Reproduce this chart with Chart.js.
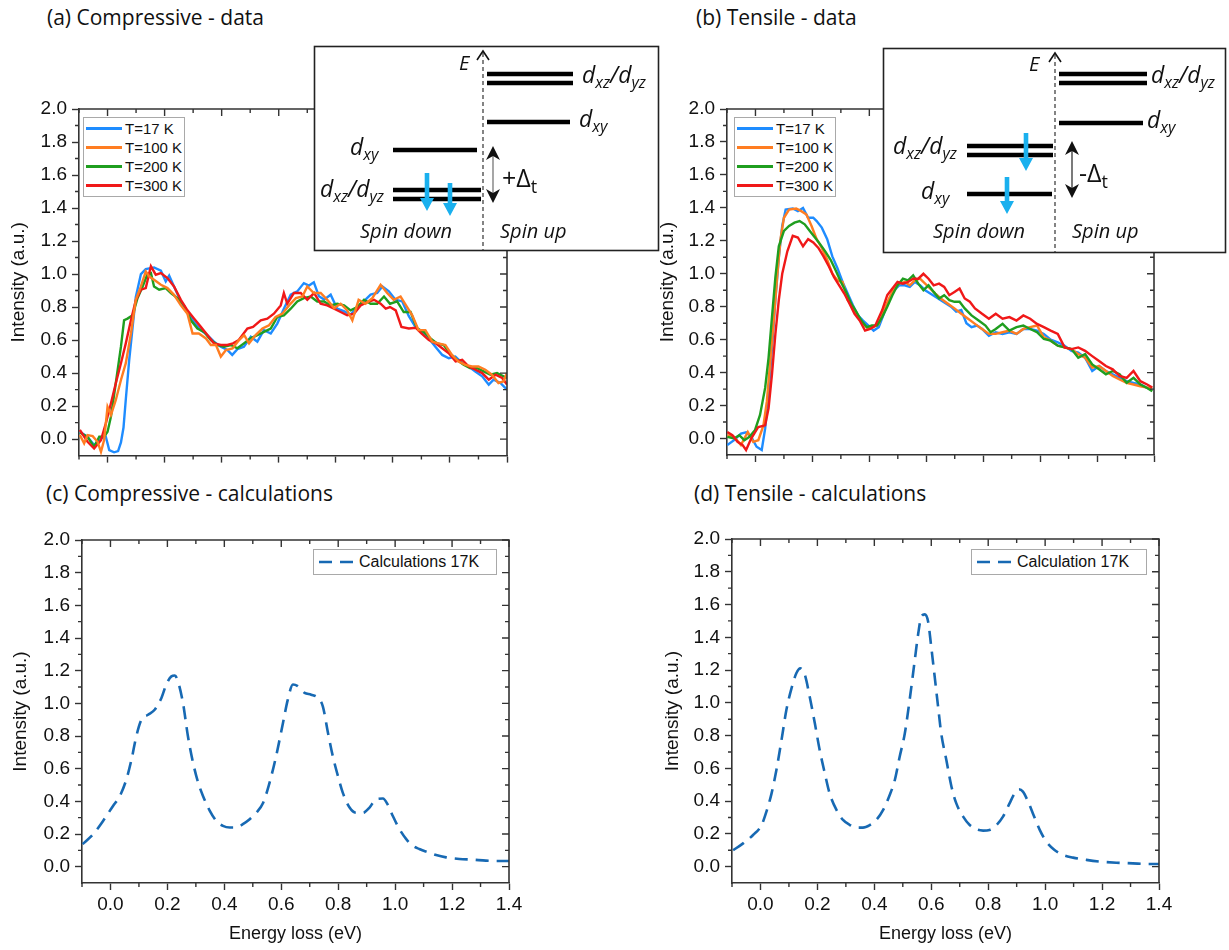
<!DOCTYPE html>
<html>
<head>
<meta charset="utf-8">
<script src="https://cdn.jsdelivr.net/npm/chart.js@4.4.1/dist/chart.umd.min.js"></script>
<style>
  html, body { margin: 0; padding: 0; background: #fff; }
  #fig { position: relative; width: 1229px; height: 950px; overflow: hidden; font-family: "Liberation Sans", Arial, sans-serif; }
  #fig canvas { position: absolute; }
  .ptitle { position: absolute; font-family: "Open Sans", sans-serif; font-size: 21px; line-height: 24px; color: #111; white-space: nowrap; }
  .legend { position: absolute; border: 1px solid #a9a9a9; background: #fff; color: #111; box-sizing: border-box; }
  .legend .row { position: absolute; left: 0; height: 19px; white-space: nowrap; }
  .legend .sw { position: absolute; left: 2px; top: 8px; width: 36px; height: 2.5px; }
  .legend .tx { position: absolute; left: 41px; top: 0; font-size: 15px; line-height: 19px; }
  #insets { position: absolute; left: 0; top: 0; pointer-events: none; }
  #insets text { font-family: "Open Sans", sans-serif; fill: #111; }
  #insets .it { font-style: italic; }
</style>
</head>
<body>
<div id="fig">
  <div class="ptitle" style="left:47px;top:5px">(a) Compressive - data</div>
  <div class="ptitle" style="left:696px;top:5px">(b) Tensile - data</div>
  <div class="ptitle" style="left:46px;top:481px">(c) Compressive - calculations</div>
  <div class="ptitle" style="left:694px;top:481px">(d) Tensile - calculations</div>

  <canvas id="chartA"></canvas>
  <canvas id="chartB"></canvas>
  <canvas id="chartC"></canvas>
  <canvas id="chartD"></canvas>

  <div class="legend" id="legA" style="left:83px;top:117px;width:102px;height:80px"></div>
  <div class="legend" id="legB" style="left:734px;top:117px;width:102px;height:80px"></div>

  <div class="legend" style="left:313px;top:549px;width:184px;height:26px">
    <svg width="42" height="24" style="position:absolute;left:2px;top:0"><line x1="3" y1="12" x2="40" y2="12" stroke="#1769b3" stroke-width="2.6" stroke-dasharray="13,8"/></svg>
    <span style="position:absolute;left:45px;top:2px;font-size:16px;line-height:20px">Calculations 17K</span>
  </div>
  <div class="legend" style="left:971px;top:549px;width:176px;height:26px">
    <svg width="42" height="24" style="position:absolute;left:2px;top:0"><line x1="3" y1="12" x2="40" y2="12" stroke="#1769b3" stroke-width="2.6" stroke-dasharray="13,8"/></svg>
    <span style="position:absolute;left:45px;top:2px;font-size:16px;line-height:20px">Calculation 17K</span>
  </div>

  <svg id="insets" width="1229" height="950">
    <!-- (a) level scheme -->
    <rect x="314.5" y="46.5" width="344" height="204" fill="#fff" stroke="#222" stroke-width="1.6"/>
    <line x1="483" y1="53" x2="483" y2="250" stroke="#333" stroke-width="1.2" stroke-dasharray="4,3"/>
    <polyline points="477,60 483,51 489,60" fill="none" stroke="#111" stroke-width="1.6"/>
    <text class="it" x="459" y="70" font-size="20">E</text>
    <g stroke="#000" stroke-width="4.5">
      <line x1="487" y1="74" x2="573" y2="74"/>
      <line x1="487" y1="83" x2="573" y2="83"/>
      <line x1="487" y1="122" x2="570" y2="122"/>
      <line x1="393" y1="150" x2="477" y2="150"/>
      <line x1="393" y1="190" x2="481" y2="190"/>
      <line x1="393" y1="199" x2="481" y2="199"/>
    </g>
    <text class="it" x="582" y="83" font-size="23">d<tspan font-size="16" dy="5">xz</tspan><tspan dy="-5">/d</tspan><tspan font-size="16" dy="5">yz</tspan></text>
    <text class="it" x="579" y="127" font-size="23">d<tspan font-size="16" dy="5">xy</tspan></text>
    <text class="it" x="350" y="155" font-size="23">d<tspan font-size="16" dy="5">xy</tspan></text>
    <text class="it" x="320" y="197" font-size="23">d<tspan font-size="16" dy="5">xz</tspan><tspan dy="-5">/d</tspan><tspan font-size="16" dy="5">yz</tspan></text>
    <g fill="#1ab0ee">
      <polygon points="424.7,173 429.3,173 429.3,198 434,198 427,211 420,198 424.7,198"/>
      <polygon points="447.7,183 452.3,183 452.3,203 457,203 450,216 443,203 447.7,203"/>
    </g>
    <line x1="493" y1="152" x2="493" y2="197" stroke="#777" stroke-width="1.3"/>
    <polygon points="493,146 500,160 493,156 486,160" fill="#111"/>
    <polygon points="493,203 500,189 493,193 486,189" fill="#111"/>
    <text x="502" y="187" font-size="25">+Δ<tspan font-size="18" dy="6">t</tspan></text>
    <text class="it" x="360" y="238" font-size="20">Spin down</text>
    <text class="it" x="500" y="238" font-size="20">Spin up</text>

    <!-- (b) level scheme -->
    <rect x="883.5" y="48.5" width="342" height="204" fill="#fff" stroke="#222" stroke-width="1.6"/>
    <line x1="1055" y1="55" x2="1055" y2="252" stroke="#333" stroke-width="1.2" stroke-dasharray="4,3"/>
    <polyline points="1049,62 1055,53 1061,62" fill="none" stroke="#111" stroke-width="1.6"/>
    <text class="it" x="1029" y="71" font-size="20">E</text>
    <g stroke="#000" stroke-width="4.5">
      <line x1="1059" y1="74" x2="1147" y2="74"/>
      <line x1="1059" y1="83" x2="1147" y2="83"/>
      <line x1="1059" y1="123" x2="1143" y2="123"/>
      <line x1="967" y1="146" x2="1053" y2="146"/>
      <line x1="967" y1="155" x2="1053" y2="155"/>
      <line x1="967" y1="194" x2="1052" y2="194"/>
    </g>
    <text class="it" x="1151" y="83" font-size="23">d<tspan font-size="16" dy="5">xz</tspan><tspan dy="-5">/d</tspan><tspan font-size="16" dy="5">yz</tspan></text>
    <text class="it" x="1147" y="128" font-size="23">d<tspan font-size="16" dy="5">xy</tspan></text>
    <text class="it" x="893" y="154" font-size="23">d<tspan font-size="16" dy="5">xz</tspan><tspan dy="-5">/d</tspan><tspan font-size="16" dy="5">yz</tspan></text>
    <text class="it" x="921" y="199" font-size="23">d<tspan font-size="16" dy="5">xy</tspan></text>
    <g fill="#1ab0ee">
      <polygon points="1023.7,133 1028.3,133 1028.3,158 1033,158 1026,171 1019,158 1023.7,158"/>
      <polygon points="1004.7,177 1009.3,177 1009.3,201 1014,201 1007,214 1000,201 1004.7,201"/>
    </g>
    <line x1="1072" y1="147" x2="1072" y2="192" stroke="#333" stroke-width="1.3"/>
    <polygon points="1072,141 1079,155 1072,151 1065,155" fill="#111"/>
    <polygon points="1072,198 1079,184 1072,188 1065,184" fill="#111"/>
    <text x="1079" y="182" font-size="25">-Δ<tspan font-size="18" dy="6">t</tspan></text>
    <text class="it" x="933" y="238" font-size="20">Spin down</text>
    <text class="it" x="1072" y="238" font-size="20">Spin up</text>
  </svg>
</div>

<script>
// axis ticks
const xMajor = [0.0, 0.2, 0.4, 0.6, 0.8, 1.0, 1.2, 1.4];
const xMinor = [-0.1, 0.1, 0.3, 0.5, 0.7, 0.9, 1.1, 1.3];
const yMajor = [0.0, 0.2, 0.4, 0.6, 0.8, 1.0, 1.2, 1.4, 1.6, 1.8, 2.0];
const yMinor = [0.1, 0.3, 0.5, 0.7, 0.9, 1.1, 1.3, 1.5, 1.7, 1.9];

// (a) compressive data, [energy loss, intensity]
const compT17 = [[-0.097,0.045],[-0.07,0.014],[-0.047,-0.036],[-0.023,0.004],[-0.006,0.014],[0.006,-0.067],[0.023,-0.08],[0.037,-0.073],[0.047,-0.02],[0.056,0.07],[0.064,0.24],[0.076,0.48],[0.088,0.68],[0.099,0.86],[0.117,1.0],[0.134,1.03],[0.163,1.04],[0.187,1.02],[0.204,0.955],[0.216,0.99],[0.233,0.925],[0.257,0.834],[0.28,0.77],[0.303,0.71],[0.327,0.66],[0.35,0.63],[0.373,0.59],[0.397,0.56],[0.42,0.54],[0.437,0.51],[0.455,0.545],[0.478,0.56],[0.502,0.62],[0.525,0.59],[0.548,0.66],[0.572,0.64],[0.595,0.70],[0.618,0.79],[0.642,0.875],[0.665,0.895],[0.688,0.945],[0.706,0.93],[0.723,0.95],[0.741,0.865],[0.759,0.845],[0.782,0.875],[0.805,0.79],[0.828,0.775],[0.852,0.755],[0.875,0.80],[0.898,0.834],[0.922,0.875],[0.945,0.885],[0.963,0.925],[0.986,0.895],[1.009,0.845],[1.033,0.834],[1.056,0.745],[1.079,0.68],[1.103,0.65],[1.126,0.61],[1.149,0.56],[1.173,0.51],[1.196,0.49],[1.219,0.50],[1.243,0.46],[1.266,0.44],[1.289,0.41],[1.313,0.38],[1.336,0.33],[1.353,0.36],[1.377,0.34],[1.4,0.30]];
const compT100 = [[-0.097,0.024],[-0.082,-0.026],[-0.07,0.024],[-0.052,0.018],[-0.035,-0.016],[-0.023,-0.077],[-0.012,-0.006],[0.0,0.196],[0.012,0.146],[0.029,0.237],[0.047,0.358],[0.064,0.46],[0.082,0.64],[0.099,0.844],[0.117,0.925],[0.134,1.016],[0.146,0.985],[0.163,0.965],[0.187,0.935],[0.21,0.915],[0.233,0.874],[0.257,0.81],[0.28,0.76],[0.298,0.64],[0.32,0.64],[0.345,0.61],[0.362,0.57],[0.38,0.57],[0.397,0.50],[0.415,0.54],[0.438,0.55],[0.461,0.60],[0.479,0.63],[0.496,0.58],[0.519,0.63],[0.543,0.67],[0.566,0.69],[0.589,0.74],[0.613,0.76],[0.636,0.81],[0.66,0.854],[0.683,0.864],[0.7,0.925],[0.723,0.885],[0.747,0.885],[0.77,0.844],[0.794,0.794],[0.817,0.82],[0.84,0.78],[0.858,0.72],[0.88,0.844],[0.904,0.82],[0.928,0.854],[0.957,0.935],[0.98,0.885],[1.003,0.844],[1.027,0.864],[1.05,0.80],[1.068,0.75],[1.09,0.66],[1.114,0.66],[1.138,0.59],[1.16,0.58],[1.184,0.57],[1.207,0.51],[1.23,0.47],[1.254,0.45],[1.277,0.44],[1.3,0.44],[1.324,0.42],[1.347,0.39],[1.37,0.34],[1.388,0.35],[1.4,0.40]];
const compT200 = [[-0.097,0.04],[-0.07,0.014],[-0.047,-0.047],[-0.029,0.014],[-0.012,0.014],[0.0,0.045],[0.012,0.136],[0.029,0.34],[0.047,0.56],[0.058,0.72],[0.07,0.73],[0.088,0.75],[0.105,0.854],[0.123,0.925],[0.14,1.0],[0.152,1.006],[0.163,0.925],[0.181,0.905],[0.204,0.915],[0.222,0.885],[0.245,0.854],[0.268,0.81],[0.292,0.72],[0.315,0.67],[0.338,0.65],[0.362,0.60],[0.385,0.57],[0.408,0.56],[0.432,0.57],[0.455,0.55],[0.478,0.58],[0.5,0.61],[0.525,0.63],[0.548,0.65],[0.572,0.67],[0.595,0.74],[0.618,0.75],[0.642,0.79],[0.665,0.834],[0.688,0.854],[0.712,0.864],[0.735,0.834],[0.759,0.834],[0.782,0.81],[0.805,0.82],[0.829,0.81],[0.852,0.78],[0.875,0.80],[0.899,0.844],[0.922,0.82],[0.945,0.82],[0.969,0.864],[0.99,0.82],[1.015,0.834],[1.038,0.77],[1.062,0.77],[1.085,0.67],[1.108,0.65],[1.132,0.61],[1.155,0.58],[1.178,0.57],[1.2,0.52],[1.225,0.48],[1.248,0.45],[1.27,0.43],[1.295,0.43],[1.318,0.41],[1.342,0.39],[1.365,0.40],[1.4,0.37]];
const compT300 = [[-0.097,0.055],[-0.07,-0.016],[-0.047,-0.057],[-0.023,-0.006],[-0.006,0.095],[0.012,0.217],[0.029,0.338],[0.047,0.46],[0.064,0.58],[0.082,0.72],[0.099,0.84],[0.117,0.905],[0.134,0.915],[0.152,1.047],[0.169,0.996],[0.187,1.006],[0.21,0.976],[0.233,0.925],[0.257,0.844],[0.28,0.78],[0.303,0.73],[0.327,0.68],[0.35,0.63],[0.373,0.58],[0.397,0.57],[0.42,0.57],[0.44,0.58],[0.46,0.60],[0.49,0.67],[0.51,0.68],[0.537,0.72],[0.56,0.73],[0.583,0.76],[0.607,0.81],[0.618,0.885],[0.63,0.82],[0.653,0.885],[0.677,0.885],[0.7,0.844],[0.724,0.885],[0.747,0.82],[0.77,0.81],[0.794,0.79],[0.817,0.77],[0.84,0.75],[0.864,0.76],[0.887,0.81],[0.91,0.83],[0.934,0.844],[0.957,0.82],[0.975,0.79],[0.99,0.80],[1.01,0.78],[1.03,0.68],[1.056,0.67],[1.08,0.675],[1.1,0.64],[1.126,0.60],[1.15,0.58],[1.173,0.55],[1.196,0.52],[1.22,0.47],[1.243,0.48],[1.266,0.44],[1.29,0.42],[1.313,0.40],[1.336,0.36],[1.36,0.39],[1.383,0.37],[1.4,0.33]];

// (b) tensile data
const tensT17 = [[-0.099,-0.04],[-0.075,-0.01],[-0.051,0.03],[-0.033,0.037],[-0.015,0.01],[0.004,-0.05],[0.022,-0.07],[0.034,0.06],[0.046,0.27],[0.058,0.55],[0.07,0.84],[0.082,1.1],[0.094,1.29],[0.106,1.39],[0.131,1.396],[0.149,1.38],[0.167,1.40],[0.185,1.34],[0.203,1.34],[0.215,1.32],[0.233,1.28],[0.252,1.21],[0.27,1.105],[0.288,1.034],[0.306,0.95],[0.324,0.88],[0.342,0.81],[0.36,0.747],[0.378,0.716],[0.397,0.686],[0.415,0.655],[0.433,0.676],[0.451,0.757],[0.469,0.84],[0.487,0.90],[0.505,0.93],[0.524,0.93],[0.542,0.92],[0.56,0.95],[0.578,0.93],[0.596,0.90],[0.614,0.88],[0.632,0.86],[0.651,0.84],[0.669,0.82],[0.687,0.80],[0.705,0.77],[0.723,0.78],[0.741,0.70],[0.759,0.676],[0.778,0.686],[0.796,0.665],[0.82,0.624],[0.844,0.645],[0.868,0.635],[0.892,0.645],[0.917,0.635],[0.941,0.665],[0.965,0.665],[0.989,0.655],[1.013,0.635],[1.037,0.60],[1.062,0.583],[1.086,0.563],[1.11,0.532],[1.134,0.522],[1.158,0.49],[1.183,0.41],[1.207,0.44],[1.231,0.41],[1.255,0.39],[1.279,0.368],[1.304,0.348],[1.328,0.338],[1.352,0.328],[1.376,0.307],[1.394,0.297]];
const tensT100 = [[-0.099,0.02],[-0.075,0.01],[-0.051,-0.04],[-0.027,0.04],[-0.008,-0.02],[0.01,-0.01],[0.028,0.08],[0.04,0.225],[0.052,0.47],[0.064,0.716],[0.076,0.98],[0.088,1.21],[0.1,1.34],[0.118,1.39],[0.143,1.396],[0.161,1.38],[0.179,1.36],[0.197,1.29],[0.215,1.21],[0.233,1.157],[0.252,1.085],[0.27,1.0],[0.288,0.96],[0.306,0.95],[0.324,0.84],[0.342,0.80],[0.36,0.737],[0.378,0.696],[0.397,0.665],[0.415,0.676],[0.433,0.696],[0.451,0.778],[0.469,0.85],[0.487,0.91],[0.505,0.94],[0.524,0.95],[0.542,0.93],[0.56,0.96],[0.578,0.97],[0.596,0.94],[0.614,0.91],[0.632,0.88],[0.651,0.85],[0.675,0.82],[0.699,0.79],[0.723,0.757],[0.747,0.727],[0.771,0.696],[0.796,0.665],[0.82,0.635],[0.844,0.635],[0.868,0.645],[0.892,0.655],[0.917,0.635],[0.941,0.665],[0.965,0.676],[0.989,0.686],[1.013,0.614],[1.037,0.594],[1.062,0.563],[1.086,0.553],[1.11,0.543],[1.134,0.512],[1.158,0.49],[1.183,0.43],[1.207,0.44],[1.231,0.41],[1.255,0.38],[1.279,0.358],[1.304,0.338],[1.328,0.328],[1.352,0.317],[1.376,0.31],[1.394,0.307]];
const tensT200 = [[-0.099,0.01],[-0.075,0.0],[-0.057,0.02],[-0.039,-0.01],[-0.021,0.01],[-0.002,0.05],[0.016,0.143],[0.034,0.307],[0.046,0.49],[0.058,0.737],[0.07,0.98],[0.082,1.167],[0.1,1.26],[0.118,1.29],[0.137,1.31],[0.155,1.32],[0.173,1.30],[0.191,1.26],[0.209,1.22],[0.227,1.18],[0.245,1.136],[0.264,1.085],[0.282,1.02],[0.3,0.95],[0.318,0.89],[0.336,0.82],[0.354,0.77],[0.372,0.716],[0.391,0.676],[0.409,0.686],[0.427,0.686],[0.445,0.737],[0.463,0.80],[0.481,0.87],[0.499,0.93],[0.518,0.97],[0.536,0.96],[0.554,0.99],[0.572,0.94],[0.59,0.90],[0.608,0.93],[0.626,0.89],[0.645,0.85],[0.663,0.87],[0.681,0.84],[0.699,0.83],[0.717,0.83],[0.735,0.79],[0.759,0.747],[0.784,0.716],[0.808,0.686],[0.826,0.645],[0.844,0.665],[0.868,0.696],[0.892,0.655],[0.917,0.676],[0.941,0.686],[0.965,0.665],[0.989,0.645],[1.013,0.604],[1.037,0.594],[1.062,0.563],[1.086,0.553],[1.11,0.543],[1.134,0.49],[1.158,0.512],[1.183,0.45],[1.207,0.42],[1.231,0.39],[1.255,0.41],[1.279,0.39],[1.304,0.338],[1.328,0.368],[1.352,0.328],[1.376,0.307],[1.394,0.287]];
const tensT300 = [[-0.099,0.04],[-0.081,0.02],[-0.063,-0.02],[-0.045,-0.04],[-0.033,-0.07],[-0.015,0.0],[0.01,0.07],[0.034,0.08],[0.046,0.184],[0.058,0.39],[0.07,0.635],[0.082,0.84],[0.094,1.0],[0.112,1.136],[0.131,1.23],[0.149,1.22],[0.167,1.167],[0.185,1.21],[0.203,1.19],[0.221,1.157],[0.239,1.105],[0.258,1.044],[0.276,0.98],[0.294,0.93],[0.312,0.88],[0.33,0.82],[0.348,0.757],[0.366,0.716],[0.385,0.655],[0.403,0.665],[0.421,0.686],[0.445,0.778],[0.463,0.87],[0.481,0.91],[0.499,0.95],[0.518,0.94],[0.536,0.95],[0.554,0.97],[0.572,0.97],[0.59,1.0],[0.608,0.97],[0.626,0.93],[0.645,0.94],[0.663,0.92],[0.681,0.87],[0.699,0.89],[0.717,0.91],[0.735,0.85],[0.753,0.83],[0.771,0.79],[0.796,0.757],[0.82,0.727],[0.844,0.757],[0.868,0.727],[0.892,0.737],[0.917,0.716],[0.941,0.747],[0.965,0.727],[0.989,0.696],[1.013,0.676],[1.037,0.655],[1.062,0.635],[1.086,0.553],[1.11,0.543],[1.134,0.553],[1.158,0.532],[1.183,0.50],[1.207,0.47],[1.231,0.44],[1.255,0.42],[1.279,0.38],[1.304,0.368],[1.328,0.41],[1.352,0.348],[1.376,0.328],[1.394,0.31]];

// (c), (d) calculations at 17 K
const compCalc = [[-0.098,0.138],[-0.06,0.20],[-0.026,0.28],[0.009,0.372],[0.033,0.433],[0.056,0.535],[0.074,0.657],[0.091,0.80],[0.109,0.90],[0.132,0.93],[0.156,0.962],[0.179,1.033],[0.196,1.115],[0.214,1.165],[0.226,1.17],[0.237,1.135],[0.255,1.0],[0.272,0.80],[0.29,0.637],[0.308,0.515],[0.325,0.433],[0.349,0.342],[0.372,0.28],[0.395,0.25],[0.419,0.24],[0.442,0.24],[0.465,0.26],[0.489,0.29],[0.512,0.33],[0.536,0.39],[0.559,0.515],[0.582,0.677],[0.606,0.88],[0.623,1.023],[0.641,1.115],[0.658,1.105],[0.682,1.064],[0.705,1.053],[0.729,1.033],[0.746,0.982],[0.764,0.82],[0.781,0.677],[0.799,0.555],[0.816,0.453],[0.84,0.362],[0.863,0.33],[0.887,0.33],[0.91,0.362],[0.933,0.413],[0.957,0.417],[0.974,0.38],[0.992,0.31],[1.015,0.23],[1.039,0.169],[1.062,0.128],[1.085,0.108],[1.109,0.092],[1.144,0.071],[1.179,0.057],[1.226,0.047],[1.273,0.043],[1.319,0.037],[1.366,0.035],[1.4,0.035]];
const tensCalc = [[-0.096,0.10],[-0.061,0.142],[-0.026,0.193],[0.004,0.254],[0.021,0.336],[0.039,0.447],[0.056,0.59],[0.074,0.773],[0.091,0.956],[0.109,1.088],[0.126,1.18],[0.14,1.21],[0.156,1.17],[0.173,1.037],[0.191,0.875],[0.208,0.712],[0.226,0.57],[0.243,0.447],[0.267,0.346],[0.29,0.285],[0.314,0.254],[0.337,0.238],[0.36,0.238],[0.384,0.254],[0.407,0.285],[0.431,0.346],[0.454,0.437],[0.472,0.529],[0.489,0.671],[0.507,0.813],[0.524,1.017],[0.542,1.26],[0.554,1.42],[0.565,1.525],[0.577,1.54],[0.589,1.495],[0.6,1.34],[0.612,1.16],[0.624,0.976],[0.635,0.813],[0.653,0.651],[0.671,0.488],[0.688,0.386],[0.712,0.305],[0.735,0.254],[0.758,0.228],[0.782,0.22],[0.805,0.224],[0.829,0.254],[0.852,0.305],[0.875,0.386],[0.893,0.447],[0.908,0.472],[0.922,0.458],[0.94,0.397],[0.957,0.325],[0.981,0.224],[1.004,0.153],[1.033,0.102],[1.063,0.071],[1.098,0.055],[1.145,0.041],[1.191,0.031],[1.25,0.024],[1.308,0.02],[1.355,0.016],[1.4,0.016]];

const tempLabels = ['T=17 K', 'T=100 K', 'T=200 K', 'T=300 K'];
const tempColors = ['#1e8cff', '#ff7d21', '#1f9e1f', '#f01818'];
const calcColor = '#1769b3';
const AX = '#333';
const FONT = '"Liberation Sans", Arial, sans-serif';

const pts = arr => arr.map(p => ({ x: p[0], y: p[1] }));

// closed frame: top/right axes with inward ticks, minor ticks everywhere
const framePlugin = {
  id: 'frame',
  afterDraw(chart) {
    const { ctx, chartArea: a, scales: { x, y } } = chart;
    ctx.save();
    ctx.strokeStyle = AX;
    ctx.lineWidth = 1.6;
    ctx.beginPath();
    ctx.moveTo(a.left, a.top); ctx.lineTo(a.right, a.top); ctx.lineTo(a.right, a.bottom);
    ctx.stroke();
    ctx.lineWidth = 1.4;
    ctx.beginPath();
    xMajor.forEach(v => { const p = x.getPixelForValue(v); ctx.moveTo(p, a.top); ctx.lineTo(p, a.top + 7); });
    xMinor.forEach(v => {
      const p = x.getPixelForValue(v);
      ctx.moveTo(p, a.top); ctx.lineTo(p, a.top + 4);
      ctx.moveTo(p, a.bottom); ctx.lineTo(p, a.bottom + 4);
    });
    yMajor.forEach(v => { const p = y.getPixelForValue(v); ctx.moveTo(a.right, p); ctx.lineTo(a.right - 7, p); });
    yMinor.forEach(v => {
      const p = y.getPixelForValue(v);
      ctx.moveTo(a.right, p); ctx.lineTo(a.right - 4, p);
      ctx.moveTo(a.left, p); ctx.lineTo(a.left - 4, p);
    });
    ctx.stroke();
    ctx.restore();
  }
};

function makePanel(id, box, area, datasets, showX, yTitleX) {
  const cv = document.getElementById(id);
  cv.width = box.w; cv.height = box.h;
  cv.style.left = box.x + 'px'; cv.style.top = box.y + 'px';
  const yW = area.l - box.x;
  const xH = box.y + box.h - area.b;
  return new Chart(cv, {
    type: 'line',
    data: { datasets },
    options: {
      responsive: false,
      animation: false,
      events: [],
      layout: { padding: { left: 0, top: area.t - box.y, right: box.x + box.w - area.r, bottom: 0 } },
      plugins: { legend: { display: false }, tooltip: { enabled: false } },
      elements: { point: { radius: 0 } },
      scales: {
        x: {
          type: 'linear', min: -0.1, max: 1.4,
          afterFit: s => { s.height = xH; },
          afterBuildTicks: s => { s.ticks = xMajor.map(v => ({ value: v })); },
          grid: { display: true, drawOnChartArea: false, drawTicks: true, tickLength: 7, tickColor: AX, tickWidth: 1.4 },
          border: { display: true, color: AX, width: 1.6 },
          ticks: { display: showX, padding: 3, color: '#111', autoSkip: false, maxRotation: 0,
                   font: { family: FONT, size: 19 }, callback: v => v.toFixed(1) },
          title: { display: showX, text: 'Energy loss (eV)', color: '#111',
                   font: { family: FONT, size: 18 }, padding: { top: 0, bottom: 5 } }
        },
        y: {
          type: 'linear', min: -0.1, max: 2.0,
          afterFit: s => { s.width = yW; },
          afterBuildTicks: s => { s.ticks = yMajor.map(v => ({ value: v })); },
          grid: { display: true, drawOnChartArea: false, drawTicks: true, tickLength: 7, tickColor: AX, tickWidth: 1.4 },
          border: { display: true, color: AX, width: 1.6 },
          ticks: { padding: 5, color: '#111', font: { family: FONT, size: 19 }, callback: v => v.toFixed(1) },
          title: { display: true, text: 'Intensity (a.u.)', color: '#111',
                   font: { family: FONT, size: 19 }, padding: { top: yTitleX - box.x - 11.4, bottom: 0 } }
        }
      }
    },
    plugins: [framePlugin]
  });
}

function dataSets(series, order) {
  return series.map((s, i) => ({
    label: tempLabels[i], data: pts(s), borderColor: tempColors[i],
    borderWidth: 2.4, tension: 0, order: order[i]
  }));
}

function calcSet(label, arr) {
  return [{ label, data: pts(arr), borderColor: calcColor, borderWidth: 2.6,
            borderDash: [13, 8], cubicInterpolationMode: 'monotone' }];
}

makePanel('chartA', { x: 0, y: 92, w: 560, h: 380 }, { l: 79, t: 109, r: 507, b: 456 },
  dataSets([compT17, compT100, compT200, compT300], [3, 0, 2, 1]), false, 19);
makePanel('chartB', { x: 650, y: 92, w: 579, h: 380 }, { l: 727, t: 109, r: 1154, b: 455 },
  dataSets([tensT17, tensT100, tensT200, tensT300], [3, 2, 1, 0]), false, 668);
makePanel('chartC', { x: 0, y: 520, w: 560, h: 430 }, { l: 82, t: 540, r: 509, b: 883 },
  calcSet('Calculations 17K', compCalc), true, 21);
makePanel('chartD', { x: 650, y: 520, w: 579, h: 430 }, { l: 732, t: 539, r: 1159, b: 883 },
  calcSet('Calculation 17K', tensCalc), true, 673);

// legends for the measured panels
['legA', 'legB'].forEach(id => {
  const box = document.getElementById(id);
  tempLabels.forEach((lab, i) => {
    const row = document.createElement('div');
    row.className = 'row';
    row.style.top = (1 + i * 19) + 'px';
    row.innerHTML = '<div class="sw" style="background:' + tempColors[i] + '"></div><div class="tx">' + lab + '</div>';
    box.appendChild(row);
  });
});
</script>
</body>
</html>
